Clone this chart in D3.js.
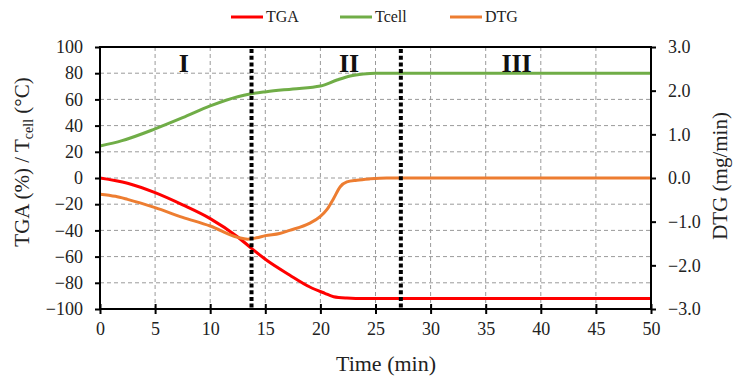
<!DOCTYPE html>
<html>
<head>
<meta charset="utf-8">
<script src="https://cdn.jsdelivr.net/npm/d3@7"></script>
<style>
  html, body { margin: 0; padding: 0; background: #fff; }
  svg { display: block; }
</style>
</head>
<body>
<svg id="chart" width="733" height="376" font-family="Liberation Serif, Times New Roman, serif"></svg>
<script>
// series
const tgaTime = [0, 2.5, 5, 7.5, 10, 12.5, 13.75, 15, 17.2, 19, 20.4, 21.2, 22.4, 24, 30, 40, 50];
const tgaValues = [0, -4, -11.2, -20.5, -31, -45, -53.7, -62, -74, -83, -88, -90.6, -91.6, -92, -92, -92, -92];

const tcellTime = [0, 2, 5, 7.5, 10, 12.5, 13.6, 15.1, 17.5, 20, 21.5, 22.7, 23.9, 25, 26.5, 30, 40, 50];
const tcellValues = [24.4, 28.5, 37.5, 46, 55, 62, 64.1, 65.9, 68, 70.2, 74.8, 77.9, 79.4, 80, 80, 80, 80, 80];

const dtgTime = [0, 1.4, 2.5, 5, 7.5, 10, 12.5, 13.4, 14.2, 15, 16.3, 17.2, 19, 20, 20.6, 21.2, 21.8, 22.4, 23.3, 24.5, 26, 30, 40, 50];
const dtgValues = [-0.37, -0.42, -0.49, -0.68, -0.9, -1.1, -1.36, -1.40, -1.37, -1.32, -1.27, -1.2, -1.04, -0.88, -0.72, -0.47, -0.2, -0.09, -0.05, -0.02, 0, 0, 0, 0];

const seriesNames = ["TGA", "Tcell", "DTG"];
const seriesColors = ["#ff0000", "#70ad47", "#ed7d31"];

const xTicks = d3.range(0, 51, 5);
const leftTicks = d3.range(-100, 101, 20);
const rightTicks = d3.range(-3, 3.01, 1);

const phaseLabels = ["I", "II", "III"];
const phaseCenters = [7.6, 22.6, 37.8];
const phaseBounds = [13.75, 27.3];

const FONT = "Liberation Serif, Times New Roman, serif";
const svg = d3.select("#chart");
const plotLeft = 100, plotRight = 651, plotTop = 47, plotBottom = 309;

const x = d3.scaleLinear().domain([0, 50]).range([plotLeft, plotRight]);
const yL = d3.scaleLinear().domain([-100, 100]).range([plotBottom, plotTop]);
const yR = d3.scaleLinear().domain([-3, 3]).range([plotBottom, plotTop]);

// grid
const grid = svg.append("g")
  .attr("stroke", "#9a9a9a")
  .attr("stroke-width", 1)
  .attr("stroke-dasharray", "4,3");
grid.selectAll(".h").data(leftTicks.filter((d) => d > -100 && d < 100)).join("line")
  .attr("x1", plotLeft).attr("x2", plotRight)
  .attr("y1", (d) => yL(d)).attr("y2", (d) => yL(d));
grid.selectAll(".v").data(xTicks.filter((d) => d > 0 && d < 50)).join("line")
  .attr("x1", (d) => x(d)).attr("x2", (d) => x(d))
  .attr("y1", plotTop).attr("y2", plotBottom);

// axes
const styleAxis = (g) => {
  g.attr("font-family", FONT).attr("font-size", 18);
  g.select(".domain").remove();
  g.selectAll(".tick line").attr("stroke", "#000").attr("stroke-width", 2);
  g.selectAll(".tick text").attr("fill", "#222");
};

svg.append("g")
  .attr("transform", `translate(${plotLeft},0)`)
  .call(d3.axisLeft(yL).tickValues(leftTicks).tickSize(5).tickPadding(12))
  .call(styleAxis);

svg.append("g")
  .attr("transform", `translate(${plotRight},0)`)
  .call(d3.axisRight(yR).tickValues(rightTicks).tickSize(5).tickPadding(12).tickFormat(d3.format(".1f")))
  .call(styleAxis);

svg.append("g")
  .attr("transform", `translate(0,${plotBottom})`)
  .call(d3.axisBottom(x).tickValues(xTicks).tickSize(5).tickPadding(8))
  .call(styleAxis)
  .call((g) => g.selectAll(".tick line").attr("y1", -5));

// series
const lineL = (ts) => d3.line().x((d, i) => x(ts[i])).y((d) => yL(d)).curve(d3.curveMonotoneX);
const lineR = (ts) => d3.line().x((d, i) => x(ts[i])).y((d) => yR(d)).curve(d3.curveMonotoneX);

svg.append("path").attr("d", lineL(tgaTime)(tgaValues))
  .attr("fill", "none").attr("stroke", seriesColors[0]).attr("stroke-width", 3);
svg.append("path").attr("d", lineL(tcellTime)(tcellValues))
  .attr("fill", "none").attr("stroke", seriesColors[1]).attr("stroke-width", 3);
svg.append("path").attr("d", lineR(dtgTime)(dtgValues))
  .attr("fill", "none").attr("stroke", seriesColors[2]).attr("stroke-width", 3);

// frame
svg.append("rect")
  .attr("x", plotLeft).attr("y", plotTop)
  .attr("width", plotRight - plotLeft).attr("height", plotBottom - plotTop)
  .attr("fill", "none").attr("stroke", "#000").attr("stroke-width", 2);

// phase dividers
svg.selectAll(".phase").data(phaseBounds).join("line")
  .attr("x1", (d) => x(d)).attr("x2", (d) => x(d))
  .attr("y1", plotTop + 2).attr("y2", plotBottom)
  .attr("stroke", "#000").attr("stroke-width", 4)
  .attr("stroke-dasharray", "4,2.7");

svg.selectAll(".phase-label").data(phaseLabels).join("text")
  .attr("x", (d, i) => x(phaseCenters[i]))
  .attr("y", yL(81))
  .attr("text-anchor", "middle")
  .attr("font-weight", "bold")
  .attr("font-size", 26)
  .attr("fill", "#111")
  .text((d) => d);

// axis titles
const leftTitle = svg.append("text")
  .attr("transform", "translate(29,162) rotate(-90)")
  .attr("text-anchor", "middle")
  .attr("font-size", 21)
  .attr("fill", "#222");
leftTitle.append("tspan").text("TGA (%) / T");
leftTitle.append("tspan").attr("font-size", 14).attr("dy", 4).text("cell");
leftTitle.append("tspan").attr("dy", -4).text(" (°C)");

svg.append("text")
  .attr("transform", "translate(727,176) rotate(-90)")
  .attr("text-anchor", "middle")
  .attr("font-size", 21)
  .attr("fill", "#222")
  .text("DTG (mg/min)");

svg.append("text")
  .attr("x", 386).attr("y", 371)
  .attr("text-anchor", "middle")
  .attr("font-size", 22)
  .attr("fill", "#222")
  .text("Time (min)");

// legend
const legendX = [231, 340, 450];
const legend = svg.append("g");
seriesNames.forEach((name, i) => {
  legend.append("line")
    .attr("x1", legendX[i]).attr("x2", legendX[i] + 32)
    .attr("y1", 17).attr("y2", 17)
    .attr("stroke", seriesColors[i]).attr("stroke-width", 3);
  legend.append("text")
    .attr("x", legendX[i] + 35).attr("y", 22)
    .attr("font-size", 16)
    .attr("fill", "#222")
    .text(name);
});
</script>
</body>
</html>
